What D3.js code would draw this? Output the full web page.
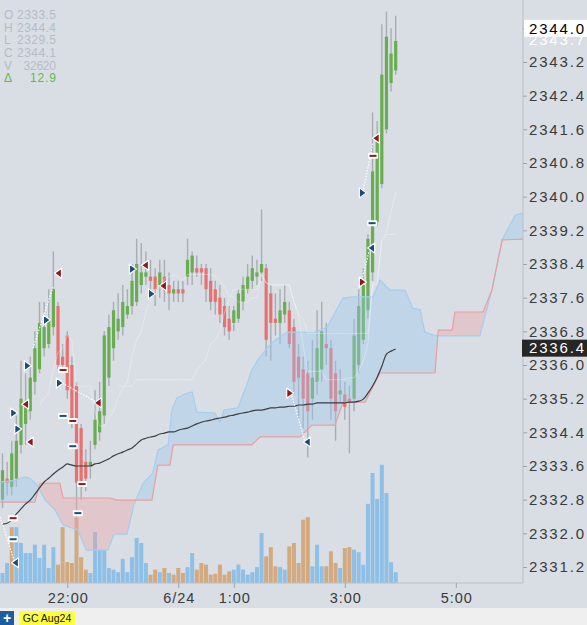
<!DOCTYPE html>
<html>
<head>
<meta charset="utf-8">
<script src="https://cdn.jsdelivr.net/npm/d3@7/dist/d3.min.js"></script>
<style>
  body { margin: 0px; padding: 0px; background: #d9dee4; }
  svg { display: block; }
  text { font-family: "Liberation Sans", Arial, sans-serif; }
</style>
</head>
<body>
<div id="svg_cont"></div>
<script>

var w = 587, h = 625;
var plot_r = 523, plot_b = 583;

// 5 minute bars, 20:50 (6/23) .. 3:55 (6/24)
var first_bar = new Date(2024, 5, 23, 20, 50);
var bar_min = 5;

var opens = [2332.8,2333.3,2333.1,2333.3,2334.1,2334.6,2334.9,2335.6,2335.9,2336.4,
  2336.5,2336.9,2337.4,2336.2,2336.7,2336.0,2335.5,2334.5,2333.7,2333.6,
  2334.1,2334.4,2334.8,2335.7,2336.4,2336.8,2336.9,2337.2,2337.4,2337.5,
  2337.9,2338.1,2338.1,2338.1,2337.9,2338.1,2337.9,2337.7,2337.8,2337.8,
  2338.1,2338.2,2338.3,2338.3,2338.3,2338.0,2337.8,2337.6,2337.4,2337.1,
  2337.0,2337.1,2337.5,2337.8,2338.0,2338.1,2338.2,2338.3,2337.7,2337.1,
  2337.0,2337.2,2337.3,2336.9,2336.2,2335.9,2335.8,2335.2,2335.6,2335.9,
  2336.5,2336.4,2335.8,2335.3,2335.3,2335.2,2335.2,2336.0,2336.6,2337.3,
  2338.2,2339.4,2340.3,2341.6,2342.7,2343.0];
var highs = [2333.9,2333.7,2334.2,2334.8,2336.1,2335.8,2336.2,2336.8,2337.5,2337.5,
  2337.8,2338.7,2337.5,2336.5,2336.8,2336.2,2335.6,2334.6,2334.0,2334.2,
  2335.4,2335.6,2336.8,2337.2,2337.5,2337.7,2337.9,2337.8,2338.4,2339.0,
  2338.9,2338.7,2338.5,2338.3,2338.5,2338.5,2338.2,2338.0,2338.0,2338.0,
  2339.0,2338.7,2338.6,2338.4,2338.4,2338.3,2338.0,2337.9,2337.6,2337.4,
  2337.4,2337.8,2338.1,2338.4,2338.6,2338.5,2339.7,2338.4,2337.9,2337.7,
  2337.8,2337.9,2337.5,2337.1,2336.5,2336.2,2336.1,2336.6,2337.3,2337.5,
  2337.0,2336.6,2336.1,2335.9,2335.6,2335.5,2337.1,2337.8,2338.3,2339.1,
  2342.0,2341.8,2344.1,2344.4,2344.0,2344.3];
var lows = [2332.6,2332.9,2332.9,2333.1,2333.9,2334.1,2334.7,2335.3,2335.8,2336.2,
  2336.4,2336.7,2335.9,2335.9,2335.2,2334.5,2332.3,2332.8,2333.0,2333.3,
  2334.0,2334.2,2334.6,2335.5,2336.1,2336.6,2336.7,2337.1,2337.2,2337.4,
  2337.7,2337.9,2337.8,2337.4,2337.6,2337.5,2337.3,2337.5,2337.5,2337.5,
  2337.9,2337.9,2338.1,2337.9,2337.5,2337.3,2337.2,2337.0,2336.7,2336.6,
  2336.8,2337.0,2337.3,2337.7,2337.8,2337.9,2338.0,2336.2,2336.1,2336.7,
  2336.5,2337.0,2336.4,2335.3,2334.7,2334.5,2333.8,2334.7,2335.3,2335.6,
  2336.0,2334.7,2334.2,2335.1,2334.7,2333.9,2334.9,2335.8,2336.5,2337.1,
  2338.0,2339.3,2340.2,2341.5,2342.5,2342.9];
var closes = [2333.5,2333.2,2333.9,2334.2,2335.2,2335.0,2335.7,2336.4,2337.0,2336.9,
  2337.1,2337.8,2336.0,2336.0,2335.4,2334.7,2333.2,2333.1,2333.3,2333.7,
  2334.7,2334.9,2336.7,2336.9,2337.3,2337.1,2337.5,2337.4,2338.0,2338.4,
  2338.2,2338.2,2338.0,2337.8,2338.2,2337.9,2337.7,2337.8,2337.7,2337.7,
  2338.5,2338.6,2338.2,2338.2,2337.8,2337.5,2337.5,2337.2,2336.9,2336.8,
  2337.3,2337.7,2337.9,2338.1,2338.3,2338.2,2338.4,2336.6,2337.0,2337.0,
  2337.3,2337.5,2336.5,2335.6,2335.7,2335.2,2334.9,2335.7,2336.4,2336.8,
  2336.4,2335.2,2334.9,2335.4,2335.0,2335.1,2336.7,2337.4,2337.9,2339.0,
  2340.6,2341.3,2342.9,2343.8,2343.4,2343.7];

var volumes = [120,240,670,670,480,360,360,460,300,460,
  180,430,220,670,250,240,780,310,160,120,
  610,400,400,180,160,130,290,130,310,540,
  480,240,100,160,130,180,120,100,180,120,
  190,360,160,240,220,100,110,220,100,140,
  160,220,160,100,130,190,600,320,430,200,
  190,160,440,480,240,760,790,200,460,200,
  200,380,240,180,420,430,400,370,220,950,
  1320,1010,1420,1080,250,130];
// 1 = blue bar, 0 = tan bar
var vol_blue = [1,1,0,1,1,1,1,1,1,1,
  1,1,0,0,0,0,0,0,0,1,
  1,1,1,1,1,1,1,1,1,1,
  1,1,0,0,1,0,1,0,0,0,
  1,1,0,0,0,0,0,0,0,0,
  1,1,1,1,1,1,1,0,0,0,
  1,1,0,0,0,0,0,1,1,1,
  0,0,0,1,0,0,1,1,1,1,
  1,1,1,1,1,1];

// dark average line
var avg_line = [2332.22,2332.24,2332.32,2332.46,2332.58,2332.70,2332.79,2332.93,2333.08,2333.22,
  2333.31,2333.41,2333.50,2333.57,2333.65,2333.62,2333.60,2333.60,2333.60,2333.60,
  2333.65,2333.67,2333.72,2333.77,2333.84,2333.89,2333.93,2333.98,2334.03,2334.12,
  2334.22,2334.26,2334.29,2334.31,2334.36,2334.38,2334.41,2334.41,2334.45,2334.48,
  2334.50,2334.55,2334.60,2334.64,2334.67,2334.69,2334.72,2334.74,2334.76,2334.79,
  2334.81,2334.84,2334.86,2334.88,2334.91,2334.93,2334.93,2334.95,2334.98,2334.98,
  2335.00,2335.00,2335.02,2335.02,2335.05,2335.05,2335.07,2335.07,2335.10,2335.10,
  2335.10,2335.10,2335.10,2335.10,2335.10,2335.12,2335.12,2335.14,2335.19,2335.33,
  2335.50,2335.71,2335.97,2336.26,2336.33,2336.38];

// cloud spans: [bar offset, price]
var span_a = [[-0.5,2333.22],[2.7,2333.26],[4.9,2333.34],[5.9,2333.31],[7.5,2333.15],[9.2,2332.79],
  [11.4,2332.55],[13.1,2332.20],[16.3,2332.08],[18.1,2331.60],[22.8,2331.60],[24.1,2331.98],
  [26.9,2331.98],[28.4,2332.67],[29.1,2332.86],[30.4,2333.19],[32.5,2333.43],[33.6,2333.98],
  [35.8,2334.10],[36.6,2334.93],[37.7,2335.22],[39.9,2335.33],[41.0,2335.36],[42.0,2334.88],
  [45.9,2334.86],[47.0,2334.64],[47.9,2334.93],[50.9,2334.98],[52.4,2335.41],[53.9,2335.88],
  [55.2,2336.12],[57.4,2336.43],[58.9,2336.59],[61.5,2336.78],[65.4,2336.78],[67.1,2336.76],
  [70.2,2336.90],[73.6,2337.59],[75.8,2337.62],[80.1,2337.62],[81.6,2338.02],[83.8,2337.78],
  [87.0,2337.78],[88.7,2337.35],[90.3,2337.31],[91.3,2336.78],[93.9,2336.69],[103.2,2336.69],
  [105.8,2337.78],[108.0,2338.97],[110.8,2339.56],[112.5,2339.61]];
var span_b = [[-0.5,2332.74],[7.0,2332.74],[8.1,2333.19],[12.4,2333.19],[13.1,2332.84],[23.2,2332.84],
  [24.8,2332.79],[32.3,2332.79],[33.6,2333.62],[36.2,2333.62],[36.9,2334.10],[53.9,2334.10],
  [55.0,2334.22],[55.7,2334.29],[64.3,2334.29],[66.9,2334.57],[71.9,2334.57],[73.6,2335.12],
  [78.4,2335.12],[79.5,2335.36],[80.5,2335.57],[81.6,2335.81],[93.5,2335.81],[94.2,2336.83],
  [97.2,2336.83],[97.8,2337.26],[103.9,2337.26],[105.8,2337.78],[108.0,2338.97],[112.5,2338.99]];

// signal markers: [bar offset, price, pointing, colour]
var tri_marks = [[12.0,2338.18,'L','r'],[4.9,2335.07,'L','r'],[5.9,2334.17,'L','r'],[20.6,2335.10,'L','r'],
  [30.8,2338.37,'L','r'],[34.7,2337.88,'L','r'],[80.7,2341.39,'L','r'],
  [62.2,2335.33,'R','r'],[77.9,2337.97,'R','r'],
  [2.5,2334.86,'R','b'],[3.4,2334.48,'R','b'],[5.5,2335.98,'R','b'],[9.6,2337.07,'R','b'],
  [12.4,2335.57,'R','b'],[28.2,2338.28,'R','b'],[32.3,2337.69,'R','b'],[77.9,2340.09,'R','b'],
  [2.7,2331.30,'L','b'],[65.8,2334.17,'L','b'],[79.7,2338.78,'L','b']];
var dash_marks = [[13.1,2335.88,'r'],[13.1,2334.79,'b'],[15.2,2334.67,'r'],[15.2,2334.07,'b'],
  [17.2,2333.17,'r'],[16.3,2332.48,'b'],[2.3,2332.36,'r'],[2.3,2331.86,'b'],
  [80.1,2340.97,'r'],[79.9,2339.37,'b']];
var zigzag = [[[-0.5,2332.39],[2.7,2331.29]], [[6.6,2336.40],[10.9,2337.85]],
  [[12.9,2335.57],[20.6,2335.10]], [[62.2,2335.41],[65.4,2334.17]],
  [[77.7,2338.02],[79.2,2338.68]], [[77.9,2340.11],[80.1,2341.27]]];

var price_ticks = [2331.2,2332.0,2332.8,2333.6,2334.4,2335.2,2336.0,2336.8,2337.6,
  2338.4,2339.2,2340.0,2340.8,2341.6,2342.4,2343.2,2344.0];
var time_ticks = [new Date(2024,5,23,22,0), new Date(2024,5,24,0,0), new Date(2024,5,24,1,0),
  new Date(2024,5,24,3,0), new Date(2024,5,24,5,0)];
var time_labels = ['22:00','6/24','1:00','3:00','5:00'];

var legend_keys = ['O','H','L','C','V','\u0394'];
var legend_vals = ['2333.5','2344.4','2329.5','2344.1','32620','12.9'];

var last_price = 2343.7, avg_price = 2336.4, mark_price = 2344.0;


var bar_time = function(i){ return new Date(first_bar.getTime() + i*bar_min*60000); };

var x = d3.scaleTime()
  .domain([new Date(2024,5,23,20,47,18), new Date(2024,5,24,6,12,36)])
  .range([0, plot_r]);
var y = d3.scaleLinear().domain([2331.2, 2343.2]).range([567, 62]);
var yv = d3.scaleLinear().domain([0, 1500]).range([plot_b, 458]);

var bars = opens.map(function(o, i){
  return {t: bar_time(i), o: o, h: highs[i], l: lows[i], c: closes[i], v: volumes[i], vb: vol_blue[i]};
});

var svg = d3.select('#svg_cont').append('svg')
  .attr('width', w).attr('height', h);

svg.append('rect').attr('width', w).attr('height', h).attr('fill', '#d9dee4');

var defs = svg.append('defs');
defs.append('clipPath').attr('id', 'plot_clip')
  .append('rect').attr('width', plot_r).attr('height', plot_b);

var sx = function(d){ return x(bar_time(d[0])); };
var sy = function(d){ return y(d[1]); };

defs.append('clipPath').attr('id', 'above_b')
  .append('path').attr('d', d3.area().x(sx).y0(0).y1(sy)(span_b));
defs.append('clipPath').attr('id', 'above_a')
  .append('path').attr('d', d3.area().x(sx).y0(0).y1(sy)(span_a));

var plot = svg.append('g').attr('clip-path', 'url(#plot_clip)');

// volume
plot.selectAll('.vol').data(bars).enter().append('rect')
  .attr('x', function(d){ return x(d.t) - 2; })
  .attr('width', 4)
  .attr('y', function(d){ return yv(d.v); })
  .attr('height', function(d){ return plot_b - yv(d.v); })
  .attr('fill', function(d){ return d.vb ? '#8ebfe6' : '#d3a97f'; });

// candles
plot.selectAll('.wick').data(bars).enter().append('line')
  .attr('x1', function(d){ return x(d.t); })
  .attr('x2', function(d){ return x(d.t); })
  .attr('y1', function(d){ return y(d.h); })
  .attr('y2', function(d){ return y(d.l); })
  .attr('stroke', '#a8adb4')
  .attr('stroke-width', 1.4);

plot.selectAll('.body').data(bars).enter().append('rect')
  .attr('x', function(d){ return x(d.t) - 1.6; })
  .attr('width', 3.2)
  .attr('y', function(d){ return y(Math.max(d.o, d.c)); })
  .attr('height', function(d){ return Math.max(1.6, Math.abs(y(d.o) - y(d.c))); })
  .attr('fill', function(d){ return d.c >= d.o ? '#68ad4f' : '#e8706f'; });

// cloud
var below = d3.area().x(sx).y0(plot_b).y1(sy);
plot.append('path').attr('d', below(span_a)).attr('clip-path', 'url(#above_b)')
  .attr('fill', '#9cc8ee').attr('fill-opacity', 0.38);
plot.append('path').attr('d', below(span_b)).attr('clip-path', 'url(#above_a)')
  .attr('fill', '#f0a4a4').attr('fill-opacity', 0.38);

var span_line = d3.line().x(sx).y(sy);
plot.append('path').attr('d', span_line(span_a)).attr('fill', 'none')
  .attr('stroke', '#a4ceef').attr('stroke-width', 1.2);
plot.append('path').attr('d', span_line(span_b)).attr('fill', 'none')
  .attr('stroke', '#eb9d9d').attr('stroke-width', 1.2);

// conversion / base lines from the bars (faint)
function mid_line(n){
  return bars.map(function(b, i){
    if (i < n - 1) return null;
    return (d3.max(highs.slice(i - n + 1, i + 1)) + d3.min(lows.slice(i - n + 1, i + 1))) / 2;
  });
}
var mid = d3.line()
  .defined(function(d){ return d != null; })
  .x(function(d, i){ return x(bar_time(i)); })
  .y(function(d){ return y(d); });
[9, 26].forEach(function(n){
  plot.append('path').attr('d', mid(mid_line(n))).attr('fill', 'none')
    .attr('stroke', '#ffffff').attr('stroke-opacity', 0.3).attr('stroke-width', 1);
});

plot.append('path')
  .attr('d', d3.line().curve(d3.curveMonotoneX)
    .x(function(d, i){ return x(bar_time(i)); })
    .y(function(d){ return y(d); })(avg_line))
  .attr('fill', 'none').attr('stroke', '#3b3d40').attr('stroke-width', 1.2);

// zigzag
plot.selectAll('.zz').data(zigzag).enter().append('line')
  .attr('x1', function(d){ return sx(d[0]); })
  .attr('y1', function(d){ return sy(d[0]); })
  .attr('x2', function(d){ return sx(d[1]); })
  .attr('y2', function(d){ return sy(d[1]); })
  .attr('stroke', '#ffffff').attr('stroke-width', 1.2)
  .attr('stroke-dasharray', '1.5,1.5');

// markers
var mark_col = {r: '#8a1b1e', b: '#1c4c78'};
plot.selectAll('.tri').data(tri_marks).enter().append('path')
  .attr('d', function(d){
    var cx = sx(d), cy = sy(d), s = d[2] == 'L' ? -1 : 1;
    return 'M' + (cx - 3.5*s) + ',' + (cy - 5) + 'L' + (cx + 3.5*s) + ',' + cy +
           'L' + (cx - 3.5*s) + ',' + (cy + 5) + 'Z';
  })
  .attr('fill', function(d){ return mark_col[d[3]]; })
  .attr('stroke', '#ffffff').attr('stroke-width', 1.2).attr('stroke-linejoin', 'round');

var dashes = plot.selectAll('.dash').data(dash_marks).enter().append('g')
  .attr('transform', function(d){ return 'translate(' + sx(d) + ',' + sy(d) + ')'; });
dashes.append('rect').attr('x', -5).attr('y', -3).attr('width', 10).attr('height', 6)
  .attr('rx', 1).attr('fill', '#ffffff');
dashes.append('rect').attr('x', -3.5).attr('y', -1).attr('width', 7).attr('height', 2)
  .attr('fill', function(d){ return mark_col[d[2]]; });

// frame
svg.append('line').attr('x1', plot_r).attr('x2', plot_r).attr('y1', 0).attr('y2', plot_b)
  .attr('stroke', '#b9bfc7');
svg.append('line').attr('x1', 0).attr('x2', plot_r).attr('y1', plot_b).attr('y2', plot_b)
  .attr('stroke', '#b9bfc7');

// price axis
var lab_x = 6;
var y_axis = d3.axisRight(y).tickValues(price_ticks).tickSize(4).tickPadding(2)
  .tickFormat(d3.format('.1f'));
var yg = svg.append('g').attr('transform', 'translate(' + plot_r + ',0)').call(y_axis);
yg.select('.domain').remove();
yg.selectAll('line').attr('stroke', '#9ea4ac');
yg.selectAll('text').attr('fill', '#3a3a3a').style('font-size', '15px')
  .attr('textLength', 55).attr('lengthAdjust', 'spacing');

// time axis
var x_axis = d3.axisBottom(x).tickValues(time_ticks).tickSize(5).tickPadding(5)
  .tickFormat(function(d, i){ return time_labels[i]; });
var xg = svg.append('g').attr('transform', 'translate(0,' + plot_b + ')').call(x_axis);
xg.select('.domain').remove();
xg.selectAll('line').attr('stroke', '#9ea4ac');
xg.selectAll('text').attr('fill', '#3a3a3a').style('font-size', '14.5px')
  .attr('textLength', function(d, i){ return time_labels[i].length == 5 ? 40 : 31; })
  .attr('lengthAdjust', 'spacing');

// price flags
svg.append('text').attr('x', plot_r + lab_x).attr('y', y(last_price) - 1).attr('dy', '0.35em')
  .attr('fill', '#ffffff').style('font-size', '15px')
  .attr('textLength', 55).attr('lengthAdjust', 'spacing')
  .text(last_price.toFixed(1));
svg.append('rect').attr('x', plot_r + 1).attr('y', y(mark_price) - 8.5)
  .attr('width', w - plot_r - 1).attr('height', 17).attr('fill', '#ffffff');
svg.append('text').attr('x', plot_r + lab_x).attr('y', y(mark_price)).attr('dy', '0.35em')
  .attr('fill', '#000000').style('font-size', '15px')
  .attr('textLength', 55).attr('lengthAdjust', 'spacing')
  .text(mark_price.toFixed(1));
svg.append('rect').attr('x', plot_r - 1).attr('y', y(avg_price) - 8.5)
  .attr('width', w - plot_r + 1).attr('height', 17).attr('fill', '#262626');
svg.append('text').attr('x', plot_r + lab_x).attr('y', y(avg_price)).attr('dy', '0.35em')
  .attr('fill', '#ffffff').style('font-size', '15px')
  .attr('textLength', 55).attr('lengthAdjust', 'spacing')
  .text(avg_price.toFixed(1));

// data window
var leg = svg.append('g');
legend_keys.forEach(function(k, i){
  var col = i == 5 ? '#5cbd4e' : '#b6bcc6';
  leg.append('text').attr('x', 4).attr('y', 15 + i*12.6).attr('dy', '0.35em')
    .attr('fill', col).style('font-size', '12px').text(k);
  leg.append('text').attr('x', 56).attr('y', 15 + i*12.6).attr('dy', '0.35em')
    .attr('text-anchor', 'end').attr('fill', col).style('font-size', '12px')
    .attr('textLength', legend_vals[i].length * 6.5).attr('lengthAdjust', 'spacing')
    .text(legend_vals[i]);
});

// symbol tab bar
svg.append('rect').attr('x', 0).attr('y', 608).attr('width', w).attr('height', h - 608)
  .attr('fill', '#efefef');
svg.append('rect').attr('x', 0).attr('y', 611).attr('width', 14).attr('height', 14)
  .attr('fill', '#1d5c9e');
svg.append('text').attr('x', 7).attr('y', 618).attr('dy', '0.35em').attr('text-anchor', 'middle')
  .attr('fill', '#ffffff').style('font-size', '14px').style('font-weight', 'bold').text('+');
svg.append('rect').attr('x', 19).attr('y', 611).attr('width', 56).attr('height', 14)
  .attr('fill', '#ffff3c');
svg.append('text').attr('x', 47).attr('y', 618).attr('dy', '0.35em').attr('text-anchor', 'middle')
  .attr('fill', '#111111').style('font-size', '10.5px').text('GC Aug24');

</script>
</body>
</html>
